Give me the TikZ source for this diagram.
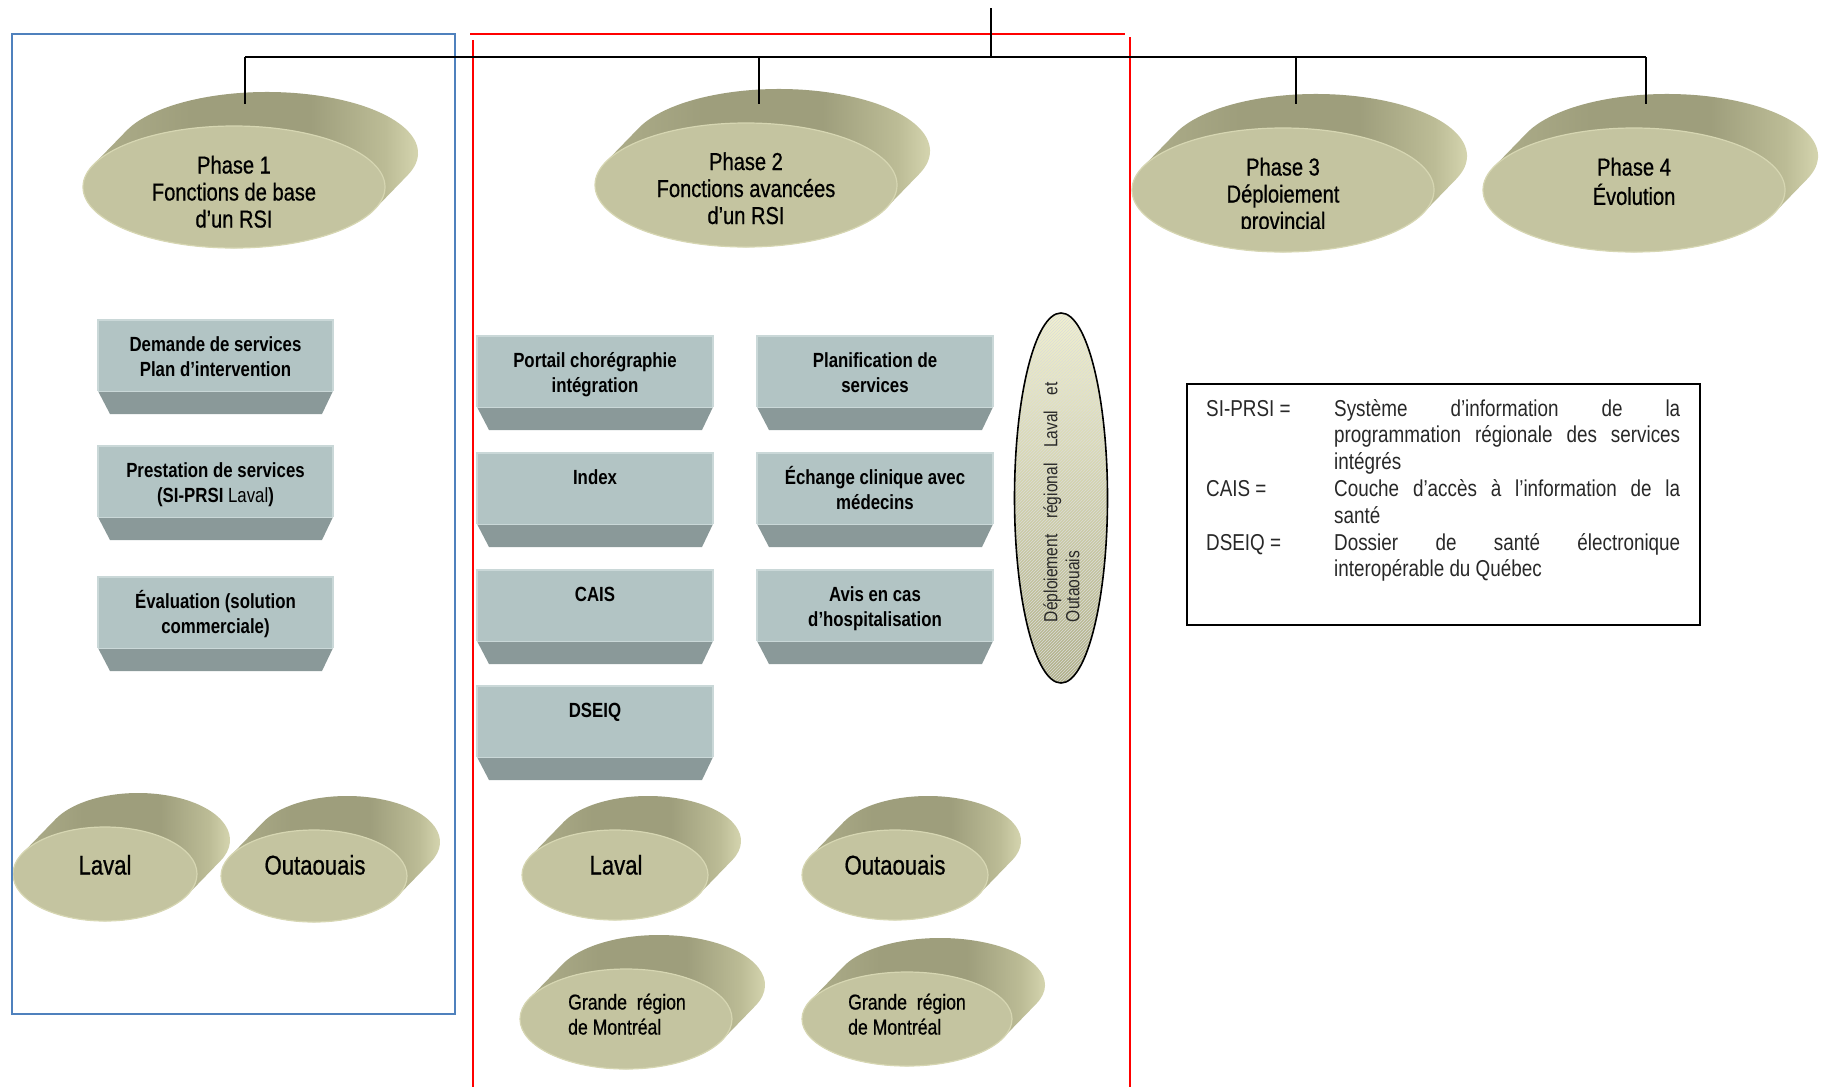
\documentclass[tikz,border=0pt]{standalone}
\usepackage{fontspec}
\setmainfont{Liberation Sans}[FakeStretch=0.82]
\newfontfamily\medfont{Liberation Sans}[FakeStretch=0.82, FakeBold=0.7]
\usetikzlibrary{patterns}
\definecolor{discfront}{RGB}{196,196,160}
\definecolor{discrim}{RGB}{214,214,178}
\definecolor{sleft}{RGB}{178,178,142}
\definecolor{sdark}{RGB}{158,158,124}
\definecolor{smid}{RGB}{188,188,150}
\definecolor{slight}{RGB}{228,228,190}
\definecolor{boxface}{RGB}{178,196,196}
\definecolor{boxbevel}{RGB}{138,153,153}
\definecolor{boxedge}{RGB}{202,216,216}
\definecolor{framered}{RGB}{255,0,0}
\definecolor{frameblue}{RGB}{79,129,189}
\definecolor{vtopc}{RGB}{242,242,206}
\definecolor{vbotc}{RGB}{176,176,136}
\definecolor{legtxt}{RGB}{40,40,40}
\pgfdeclarehorizontalshading{discside}{100bp}{color(0bp)=(sleft); color(25bp)=(sleft); color(42bp)=(sdark); color(58bp)=(sdark); color(68bp)=(smid); color(75bp)=(slight); color(100bp)=(slight)}
\newcommand\mlines[1]{\begin{tabular}[t]{@{}c@{}}#1\end{tabular}}
\newcommand\disc[4]{%
  \pgfmathsetmacro\dT{atan((#4*33)/(#3*34))}%
  \path[shading=discside] (#1,#2) ++(\dT:#3 and #4) -- ++(33,-34)
     arc[start angle=\dT, end angle=\dT-180, x radius=#3, y radius=#4]
     -- ++(-33,34)
     arc[start angle=\dT+180, end angle=\dT, x radius=#3, y radius=#4] -- cycle;
  \fill[discfront, draw=discrim, line width=1.2pt] (#1,#2) ellipse[x radius=#3, y radius=#4];
}
\newcommand\tealbox[5]{%
  \fill[boxface] (#1,#3) rectangle (#2,#3+71);
  \fill[boxbevel] (#1,#3+71) -- (#2,#3+71) -- (#2-11,#3+94) -- (#1+12,#3+94) -- cycle;
  \draw[boxedge, line width=1.5pt] (#1,#3+71) -- (#1,#3) -- (#2,#3) -- (#2,#3+71);
  \draw[boxedge, line width=1pt] (#1,#3+71) -- (#2,#3+71);
  \node[boxtxt] (#5) at ({(#1+#2)/2}, #3+31) {\mlines{#4}};
}
\tikzset{
  boxtxt/.style={anchor=base, inner sep=0pt, font=\fontsize{20.5}{25}\selectfont\bfseries},
  phasetxt/.style={anchor=base, inner sep=0pt, font=\medfont\fontsize{24.5}{27}\selectfont},
  regtxt/.style={anchor=base, inner sep=0pt, font=\medfont\fontsize{27}{30}\selectfont},
  grtxt/.style={anchor=base west, inner sep=0pt, font=\medfont\fontsize{21.5}{25}\selectfont},
  legstyle/.style={anchor=base west, inner sep=0pt, text=legtxt, font=\fontsize{23}{26.8}\selectfont},
  vtxt/.style={inner sep=0pt, text=legtxt, font=\fontsize{19}{22}\selectfont},
  conn/.style={line width=2.2pt, black},
}
\begin{document}
\begin{tikzpicture}[x=1pt, y=-1pt]
\useasboundingbox (0,0) rectangle (1827,1087);
\fill[white] (0,0) rectangle (1827,1087);

% phase discs
\disc{234}{187}{151}{61}
\disc{746}{185}{151}{62}
\disc{1283}{190}{151}{62}
\disc{1634}{190}{151}{62}
\node[phasetxt] (p1) at (234,173.5) {\mlines{Phase 1\\Fonctions de base\\d’un RSI}};
\node[phasetxt] (p2) at (746,170) {\mlines{Phase 2\\Fonctions avancées\\d’un RSI}};
\begin{scope}
  \clip (1100,130) rectangle (1470,228);
  \node[phasetxt] (p3) at (1283,175.5) {\mlines{Phase 3\\Déploiement\\provincial}};
\end{scope}
\node[phasetxt] (p4) at (1634,175.5) {\mlines{Phase 4\\Évolution}};

% region discs
\disc{105}{874}{92}{47}
\disc{314}{876}{93}{46}
\disc{615}{875}{93}{45}
\disc{895}{875}{93}{45}
\disc{626}{1019}{106}{50}
\disc{907}{1019}{105}{47}
\node[regtxt] (lav1) at (105,874.5) {Laval};
\node[regtxt] (out1) at (315,874.5) {Outaouais};
\node[regtxt] (lav2) at (616,874.5) {Laval};
\node[regtxt] (out2) at (895,874.5) {Outaouais};
\node[grtxt] (gr1) at (568,1009.5) {\begin{tabular}[t]{@{}l@{}}Grande\ \ région\\de Montréal\end{tabular}};
\node[grtxt] (gr2) at (848,1009.5) {\begin{tabular}[t]{@{}l@{}}Grande\ \ région\\de Montréal\end{tabular}};

% boxes phase 1
\tealbox{98}{333}{320}{Demande de services\\Plan d’intervention}{b1}
\tealbox{98}{333}{446}{Prestation de services\\(SI-PRSI {\mdseries Laval})}{b2}
\tealbox{98}{333}{577}{Évaluation (solution\\commerciale)}{b3}
% boxes phase 2
\tealbox{477}{713}{336}{Portail chorégraphie\\intégration}{a1}
\tealbox{477}{713}{453}{Index}{a2}
\tealbox{477}{713}{570}{CAIS}{a3}
\tealbox{477}{713}{686}{DSEIQ}{a4}
\tealbox{757}{993}{336}{Planification de\\services}{c1b}
\tealbox{757}{993}{453}{Échange clinique avec\\médecins}{c2b}
\tealbox{757}{993}{570}{Avis en cas\\d’hospitalisation}{c3b}

% vertical ellipse
\shade[top color=vtopc, bottom color=vbotc] (1061,498) ellipse[x radius=46.5, y radius=185];
\fill[pattern=north east lines, pattern color=black!14] (1061,498) ellipse[x radius=46.5, y radius=185];
\draw[line width=1.6pt] (1061,498) ellipse[x radius=46.5, y radius=185];
\node[vtxt, rotate=90] (vd) at (1064,502) {\begin{tabular}{@{}l@{}}\makebox[240pt][s]{Déploiement régional Laval et}\\Outaouais\end{tabular}};

% legend
\draw[line width=2pt] (1187,384) rectangle (1700,625);
\node[legstyle] (leg) at (1206,416) {\begin{tabular}[t]{@{}l@{}l@{}}
\makebox[128pt][l]{SI-PRSI =} & \makebox[346pt][s]{Système d’information de la}\\
 & \makebox[346pt][s]{programmation régionale des services}\\
 & intégrés\\
CAIS = & \makebox[346pt][s]{Couche d’accès à l’information de la}\\
 & santé\\
DSEIQ = & \makebox[346pt][s]{Dossier de santé électronique}\\
 & interopérable du Québec
\end{tabular}};

% frames
\draw[frameblue, line width=2pt] (12,34) rectangle (455,1014);
\draw[framered, line width=2pt] (470,34) -- (1125,34);
\draw[framered, line width=2pt] (473,40) -- (473,1087);
\draw[framered, line width=2pt] (1130,37) -- (1130,1087);

% connectors
\coordinate (root) at (991,8);
\coordinate (j0) at (991,57);
\coordinate (j1) at (245,57);
\coordinate (j2) at (759,57);
\coordinate (j3) at (1296,57);
\coordinate (j4) at (1646,57);
\coordinate (e1) at (245,104);
\coordinate (e2) at (759,104);
\coordinate (e3) at (1296,104);
\coordinate (e4) at (1646,104);
\draw[conn] (root) -- (j0);
\draw[conn] (j1) -- (j4);
\draw[conn] (j1) -- (e1);
\draw[conn] (j2) -- (e2);
\draw[conn] (j3) -- (e3);
\draw[conn] (j4) -- (e4);
\end{tikzpicture}
\end{document}
